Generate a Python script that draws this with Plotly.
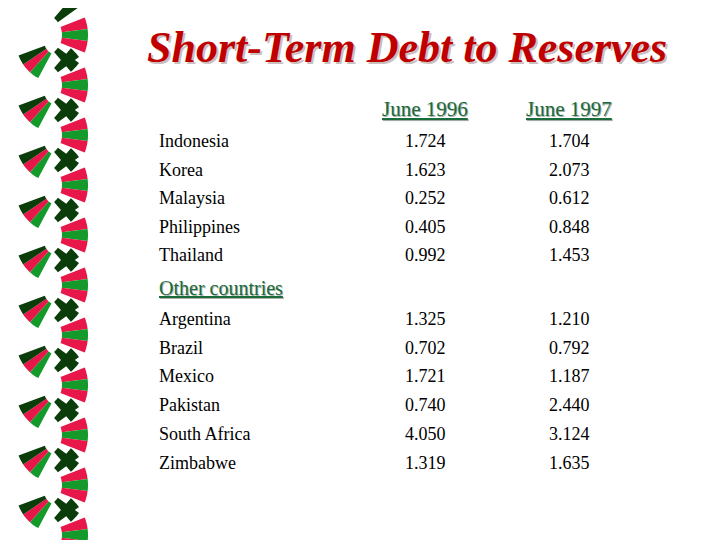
import math
import plotly.graph_objects as go

asia = ["Indonesia", "Korea", "Malaysia", "Philippines", "Thailand"]
asia_1996 = [1.724, 1.623, 0.252, 0.405, 0.992]
asia_1997 = [1.704, 2.073, 0.612, 0.848, 1.453]

others = ["Argentina", "Brazil", "Mexico", "Pakistan", "South Africa", "Zimbabwe"]
others_1996 = [1.325, 0.702, 1.721, 0.740, 4.050, 1.319]
others_1997 = [1.210, 0.792, 1.187, 2.440, 3.124, 1.635]

headers = ["June 1996", "June 1997"]
title = "Short-Term Debt to Reserves"

SERIF = "Liberation Serif"
DKGREEN = "#0b3d0b"
RED = "#e8174a"
GREEN = "#139a2a"

fig = go.Figure()
shapes = []


def wedge(cx, cy, r0, r1, a0, a1, color):
    pts = []
    for i in range(7):
        a = math.radians(a0 + (a1 - a0) * i / 6)
        pts.append((cx + r1 * math.cos(a), cy + r1 * math.sin(a)))
    for i in range(7):
        a = math.radians(a1 - (a1 - a0) * i / 6)
        pts.append((cx + r0 * math.cos(a), cy + r0 * math.sin(a)))
    path = "M " + " L ".join(f"{x:.1f},{y:.1f}" for x, y in pts) + " Z"
    shapes.append(dict(type="path", path=path, fillcolor=color, line_width=0, layer="below"))


# decorative fans down the left edge
right_cols = [DKGREEN, None, RED, GREEN, RED, None, DKGREEN]
left_cols = [GREEN, RED, DKGREEN]
for k in range(11):
    y0 = k * 50 - 5
    steps = len(right_cols)
    for i, c in enumerate(right_cols):
        if c:
            wedge(40, y0 + 40, 22, 48, -50 + i * 100 / steps, -50 + (i + 1) * 100 / steps, c)
    for i, c in enumerate(left_cols):
        wedge(58, y0 + 46, 14, 42, 118 + i * 14, 118 + (i + 1) * 14, c)


def text(x, y, s, size=18, color="black", anchor="left", font=SERIF):
    fig.add_annotation(x=x, y=y, text=s, showarrow=False, xanchor=anchor, yanchor="middle",
                       font=dict(family=font, size=size, color=color))


# title with shadow
text(409, 49, f"<b><i>{title}</i></b>", size=44, color="#c9c0c0", anchor="center")
text(407, 47, f"<b><i>{title}</i></b>", size=44, color="#c00000", anchor="center")

for x, h in zip([425, 569], headers):
    text(x + 1, 110, f"<u>{h}</u>", size=21, color="#b0b0b0", anchor="center")
    text(x, 109, f"<u>{h}</u>", size=21, color="#1a6b3a", anchor="center")

for i, name in enumerate(asia):
    y = 141 + i * 28.5
    text(157, y, name)
    text(425, y, f"{asia_1996[i]:.3f}", anchor="center")
    text(569, y, f"{asia_1997[i]:.3f}", anchor="center")

text(158, 289, "<u>Other countries</u>", size=20, color="#b0b0b0")
text(157, 288, "<u>Other countries</u>", size=20, color="#1a6b3a")

for i, name in enumerate(others):
    y = 319 + i * 28.7
    text(157, y, name)
    text(425, y, f"{others_1996[i]:.3f}", anchor="center")
    text(569, y, f"{others_1997[i]:.3f}", anchor="center")

# the page body has an 8px margin, so shift the coordinate frame to match window pixels
fig.update_layout(
    width=720, height=540, margin=dict(l=0, r=0, t=0, b=0),
    plot_bgcolor="white", paper_bgcolor="white", showlegend=False, shapes=shapes,
    xaxis=dict(range=[8, 728], visible=False, fixedrange=True),
    yaxis=dict(range=[548, 8], visible=False, fixedrange=True),
)
fig.write_html("out.html")
